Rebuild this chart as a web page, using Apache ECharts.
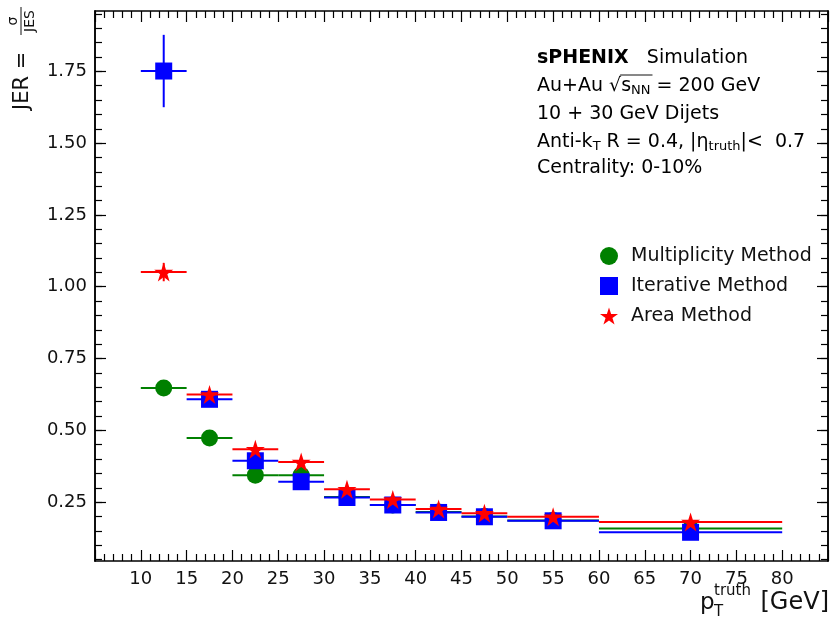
<!DOCTYPE html>
<html>
<head>
<meta charset="utf-8">
<script src="https://cdn.jsdelivr.net/npm/echarts@6/dist/echarts.min.js"></script>
<style>
  html, body { margin: 0; padding: 0; background: #fff; }
  #chart { width: 836px; height: 621px; }
</style>
</head>
<body>
<div id="chart"></div>
<script>
/* ------------------------------------------------------------------ */
/*  Data                                         */
/* ------------------------------------------------------------------ */

const binCenters = [12.5, 17.5, 22.5, 27.5, 32.5, 37.5, 42.5, 47.5, 55, 70];
const binLow = [10, 15, 20, 25, 30, 35, 40, 45, 50, 60];
const binHigh = [15, 20, 25, 30, 35, 40, 45, 50, 60, 80];

const multiplicity = [0.647, 0.473, 0.344, 0.344, 0.268, 0.240, 0.216, 0.200, 0.186, 0.158];
const multiplicityErr = [0.010, 0.006, 0.004, 0.004, 0.003, 0.003, 0.003, 0.003, 0.002, 0.002];

const iterative = [1.751, 0.608, 0.394, 0.321, 0.266, 0.240, 0.214, 0.199, 0.185, 0.145];
const iterativeErr = [0.126, 0.010, 0.006, 0.005, 0.004, 0.003, 0.003, 0.003, 0.002, 0.002];

const area = [1.051, 0.625, 0.434, 0.390, 0.295, 0.259, 0.226, 0.211, 0.199, 0.181];
const areaErr = [0.032, 0.008, 0.005, 0.004, 0.003, 0.003, 0.003, 0.003, 0.002, 0.002];

const yTickLabels = [0.25, 0.5, 0.75, 1.0, 1.25, 1.5, 1.75];

const FONT = '"DejaVu Sans", sans-serif';
const INK = '#111';
const STAR = 'path://M0 -1 L0.2245 -0.309 L0.9511 -0.309 L0.3633 0.118 L0.5878 0.809 L0 0.382 L-0.5878 0.809 L-0.3633 0.118 L-0.9511 -0.309 L-0.2245 -0.309 Z';

const Y_MIN = 0.045;
const Y_MAX = 1.96;

/* minor y ticks every 0.05 */
const yMinorTicks = [];
for (let k = 1; k * 0.05 < Y_MAX; k++) yMinorTicks.push(+(k * 0.05).toFixed(2));

/* ------------------------------------------------------------------ */
/*  Helpers                                                            */
/* ------------------------------------------------------------------ */

function errorRows(values, errs) {
  return binCenters.map((c, i) => [c, values[i], binLow[i], binHigh[i], errs[i]]);
}

function errorBars(color) {
  return function (params, api) {
    const x = api.value(0);
    const y = api.value(1);
    const e = api.value(4);
    const l = api.coord([api.value(2), y]);
    const r = api.coord([api.value(3), y]);
    const t = api.coord([x, y + e]);
    const b = api.coord([x, y - e]);
    const style = { stroke: color, lineWidth: 2 };
    return {
      type: 'group',
      children: [
        { type: 'line', shape: { x1: l[0], y1: l[1], x2: r[0], y2: r[1] }, style },
        { type: 'line', shape: { x1: t[0], y1: t[1], x2: b[0], y2: b[1] }, style }
      ]
    };
  };
}

function methodSeries(name, values, errs, color, symbol, size, z) {
  return [
    {
      name,
      type: 'custom',
      renderItem: errorBars(color),
      data: errorRows(values, errs),
      encode: { x: 0, y: 1 },
      z,
      silent: true
    },
    {
      name,
      type: 'scatter',
      data: binCenters.map((c, i) => [c, values[i]]),
      symbol,
      symbolSize: size,
      itemStyle: { color, opacity: 1 },
      z: z + 1
    }
  ];
}

function yAxisDef(position, values, showLabel, len) {
  return {
    type: 'value',
    position,
    min: Y_MIN,
    max: Y_MAX,
    axisLine: { show: true, lineStyle: { color: '#000', width: 1.5 } },
    splitLine: { show: false },
    axisTick: {
      show: true, inside: true, length: len, customValues: values,
      lineStyle: { color: '#000', width: 1.2 }
    },
    axisLabel: showLabel
      ? {
          show: true, customValues: values, margin: 8,
          fontSize: 18, fontFamily: FONT, color: INK,
          formatter: (v) => v.toFixed(2)
        }
      : { show: false }
  };
}

function xAxisDef(position, showLabel) {
  return {
    type: 'value',
    position,
    min: 5,
    max: 85,
    interval: 5,
    axisLine: { show: true, lineStyle: { color: '#000', width: 1.5 } },
    splitLine: { show: false },
    axisTick: { show: true, inside: true, length: 11, lineStyle: { color: '#000', width: 1.2 } },
    minorTick: { show: true, splitNumber: 5, length: 7, lineStyle: { color: '#000', width: 1.2 } },
    minorSplitLine: { show: false },
    axisLabel: {
      show: showLabel, margin: 9, fontSize: 18, fontFamily: FONT, color: INK,
      showMinLabel: false, showMaxLabel: false
    }
  };
}

/* text measurement for the sqrt overline */
const measureCtx = document.createElement('canvas').getContext('2d');
function textWidth(str, size) {
  measureCtx.font = size + 'px "DejaVu Sans"';
  return measureCtx.measureText(str).width;
}

/* ------------------------------------------------------------------ */
/*  Annotations                                                        */
/* ------------------------------------------------------------------ */

const TX = 537;
const lineY = [58, 86, 114, 142, 168];
const rich = {
  b: { fontSize: 19, fontFamily: FONT, fontWeight: 'bold', color: INK, lineHeight: 22 },
  n: { fontSize: 19, fontFamily: FONT, color: INK, lineHeight: 22 },
  sub: { fontSize: 13, fontFamily: FONT, color: INK, lineHeight: 8, verticalAlign: 'bottom' }
};

function textLine(y, text) {
  return {
    type: 'text', x: TX, y,
    style: { text, rich, verticalAlign: 'middle', align: 'left' }
  };
}

const sqrtStart = TX + textWidth('Au+Au \u221A', 19) - 1;
const sqrtEnd = sqrtStart + textWidth('s', 19) + textWidth('NN', 13) + 3;

const graphics = [
  textLine(lineY[0], '{b|sPHENIX}{n|   Simulation}'),
  textLine(lineY[1], '{n|Au+Au \u221As}{sub|NN}{n| = 200 GeV}'),
  textLine(lineY[2], '{n|10 + 30 GeV Dijets}'),
  textLine(lineY[3], '{n|Anti-k}{sub|T}{n| R = 0.4, |\u03B7}{sub|truth}{n||<  0.7}'),
  textLine(lineY[4], '{n|Centrality: 0-10%}'),
  {
    type: 'line',
    shape: { x1: sqrtStart, y1: lineY[1] - 11, x2: sqrtEnd, y2: lineY[1] - 11 },
    style: { stroke: INK, lineWidth: 1 }
  },
  /* y axis title: JER = sigma / JES */
  {
    type: 'group',
    x: 22,
    y: 60,
    rotation: Math.PI / 2,
    children: [
      { type: 'text', x: -50, y: 1,
        style: { text: 'JER =', fontSize: 21, fontFamily: FONT, fill: INK, verticalAlign: 'middle', align: 'left' } },
      { type: 'text', x: 39, y: -2,
        style: { text: '\u03C3', fontSize: 14, fontFamily: FONT, fill: INK, verticalAlign: 'bottom', align: 'center' } },
      { type: 'line', shape: { x1: 25, y1: -1, x2: 53, y2: -1 }, style: { stroke: INK, lineWidth: 1 } },
      { type: 'text', x: 39, y: 1,
        style: { text: 'JES', fontSize: 14, fontFamily: FONT, fill: INK, verticalAlign: 'top', align: 'center' } }
    ]
  },
  /* x axis title: p_T^truth [GeV] */
  { type: 'text', x: 829, y: 603,
    style: { text: '[GeV]', fontSize: 24, fontFamily: FONT, fill: INK, verticalAlign: 'middle', align: 'right' } },
  { type: 'text', x: 700, y: 603,
    style: { text: 'p', fontSize: 23, fontFamily: FONT, fill: INK, verticalAlign: 'middle', align: 'left' } },
  { type: 'text', x: 714, y: 591,
    style: { text: 'truth', fontSize: 15, fontFamily: FONT, fill: INK, verticalAlign: 'middle', align: 'left' } },
  { type: 'text', x: 714, y: 612,
    style: { text: 'T', fontSize: 15, fontFamily: FONT, fill: INK, verticalAlign: 'middle', align: 'left' } }
];

/* ------------------------------------------------------------------ */
/*  Chart                                                              */
/* ------------------------------------------------------------------ */

const chart = echarts.init(document.getElementById('chart'), null, { renderer: 'canvas' });

chart.setOption({
  animation: false,
  backgroundColor: '#fff',
  grid: { left: 95, right: 8, top: 11, bottom: 60, containLabel: false },
  xAxis: [xAxisDef('bottom', true), xAxisDef('top', false)],
  yAxis: [
    yAxisDef('left', yTickLabels, true, 11),
    yAxisDef('left', yMinorTicks, false, 7),
    yAxisDef('right', yTickLabels, false, 11),
    yAxisDef('right', yMinorTicks, false, 7)
  ],
  legend: {
    orient: 'vertical',
    left: 595,
    top: 241,
    itemWidth: 18,
    itemHeight: 18,
    itemGap: 10,
    textStyle: { fontSize: 19, fontFamily: FONT, color: INK, lineHeight: 20, padding: [0, 0, 0, 8] },
    data: [
      { name: 'Multiplicity Method', icon: 'circle', itemStyle: { color: '#008000' } },
      { name: 'Iterative Method', icon: 'rect', itemStyle: { color: '#0000ff' } },
      { name: 'Area Method', icon: STAR, itemStyle: { color: '#ff0000' } }
    ]
  },
  graphic: graphics,
  series: [
    ...methodSeries('Multiplicity Method', multiplicity, multiplicityErr, '#008000', 'circle', 17, 2),
    ...methodSeries('Iterative Method', iterative, iterativeErr, '#0000ff', 'rect', 17, 4),
    ...methodSeries('Area Method', area, areaErr, '#ff0000', STAR, 19, 6)
  ]
});
</script>
</body>
</html>
